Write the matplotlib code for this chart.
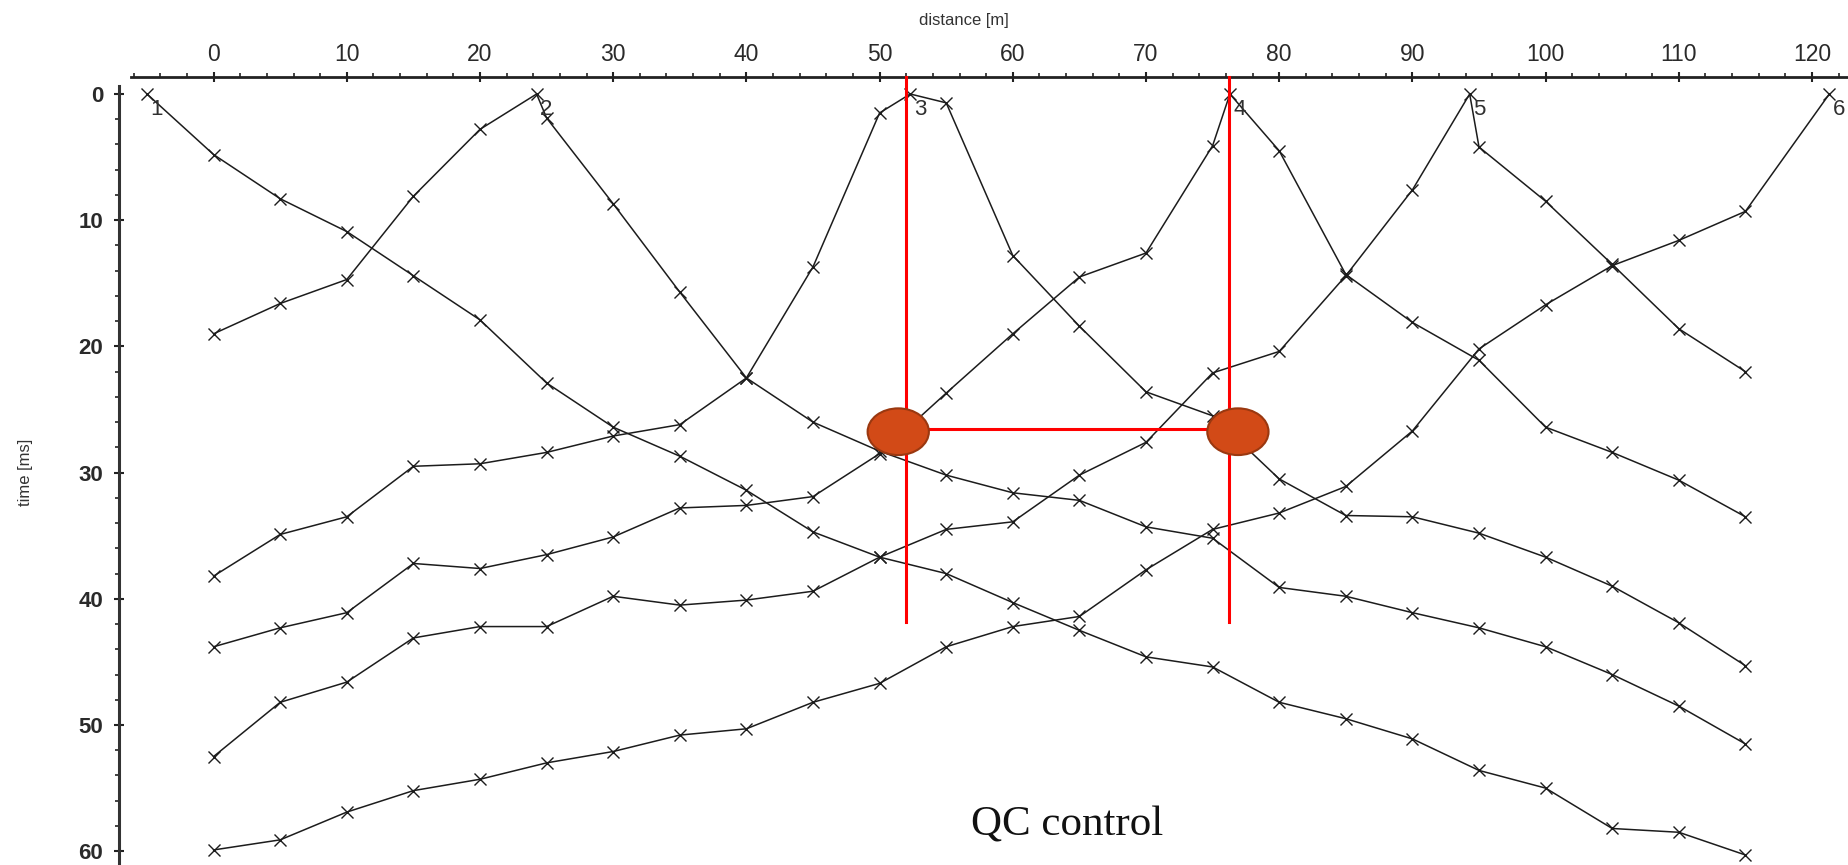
import matplotlib
matplotlib.use("Agg")
import matplotlib.pyplot as plt
from matplotlib.patches import Ellipse
from matplotlib.ticker import MultipleLocator

plt.rcParams['font.family'] = ['Liberation Sans', 'DejaVu Sans']

# ---------------- data ----------------
offsets = [0, 5, 10, 15, 20, 25, 30, 35, 40, 45, 50, 55,
           60, 65, 70, 75, 80, 85, 90, 95, 100, 105, 110, 115]
shot_labels = ["1", "2", "3", "4", "5", "6"]
shot_x = [-5.0, 24.25, 52.3, 76.3, 94.3, 121.3]

times_1 = [4.8, 8.3, 10.9, 14.4, 17.9, 22.9, 26.4, 28.7, 31.4, 34.7, 36.7, 38.0,
           40.3, 42.5, 44.6, 45.4, 48.2, 49.5, 51.1, 53.6, 55.0, 58.2, 58.5, 60.3]
times_2 = [19.0, 16.6, 14.7, 8.1, 2.8, 1.9, 8.7, 15.7, 22.5, 26.0, 28.3, 30.2,
           31.6, 32.2, 34.3, 35.2, 39.1, 39.8, 41.1, 42.3, 43.8, 46.0, 48.5, 51.5]
times_3 = [38.2, 34.9, 33.5, 29.5, 29.3, 28.4, 27.1, 26.2, 22.5, 13.7, 1.5, 0.7,
           12.8, 18.4, 23.6, 25.5, 30.5, 33.4, 33.5, 34.8, 36.7, 39.0, 41.9, 45.3]
times_4 = [43.8, 42.3, 41.1, 37.2, 37.6, 36.5, 35.1, 32.8, 32.6, 31.9, 28.5, 23.7,
           19.0, 14.5, 12.6, 4.1, 4.5, 14.3, 18.1, 21.1, 26.4, 28.4, 30.6, 33.5]
times_5 = [52.5, 48.2, 46.6, 43.1, 42.2, 42.2, 39.8, 40.5, 40.1, 39.4, 36.7, 34.5,
           33.9, 30.2, 27.6, 22.1, 20.4, 14.4, 7.6, 4.2, 8.5, 13.5, 18.6, 22.0]
times_6 = [59.9, 59.1, 56.9, 55.2, 54.3, 53.0, 52.1, 50.8, 50.3, 48.2, 46.7, 43.8,
           42.2, 41.4, 37.7, 34.5, 33.2, 31.1, 26.7, 20.2, 16.7, 13.6, 11.6, 9.3]
all_times = [times_1, times_2, times_3, times_4, times_5, times_6]

# QC annotation (red lines / picked points)
qc_x = [51.95, 76.25]
qc_line_bottom = 41.8
qc_time = 26.57
qc_pts_x = [51.4, 76.9]
qc_pts_t = [26.76, 26.76]

# ---------------- figure ----------------
W, H = 1849, 865
fig = plt.figure(figsize=(W / 100, H / 100), dpi=100)

x0_px, px_per_m = 213.6, 13.32
y0_px, px_per_ms = 94.0, 12.62
ax_left_px, ax_top_px = 119.3, 76.7
ax = fig.add_axes([ax_left_px / W, 0, 1 - ax_left_px / W, 1 - ax_top_px / H])
ax.set_xlim((ax_left_px - x0_px) / px_per_m, (W - x0_px) / px_per_m)
ax.set_ylim((H - y0_px) / px_per_ms, (ax_top_px - y0_px) / px_per_ms)

line_col = '#1c1c1c'
for sx, times in zip(shot_x, all_times):
    pts = sorted(list(zip(offsets, times)) + [(sx, 0.0)])
    xs = [p[0] for p in pts]
    ts = [p[1] for p in pts]
    ax.plot(xs, ts, color=line_col, lw=1.1, marker='x', ms=8, mew=1.0,
            zorder=2, clip_on=False)

for lab, sx in zip(shot_labels, shot_x):
    ax.annotate(lab, (sx, 0), xytext=(2.5, -3.5), textcoords='offset points',
                ha='left', va='top', fontsize=16, color='#303030', zorder=3)

# red QC lines
red = '#FF0000'
for qx in qc_x:
    ax.plot([qx, qx], [ax.get_ylim()[1], qc_line_bottom], color=red, lw=2.2,
            zorder=4, clip_on=False)
ax.plot([qc_x[0], qc_x[1]], [qc_time, qc_time], color=red, lw=2.2, zorder=4)
for ex, et in zip(qc_pts_x, qc_pts_t):
    ax.add_patch(Ellipse((ex, et), width=4.6, height=3.7, facecolor='#D24A17',
                         edgecolor='#9A3810', lw=1.5, zorder=5))

# axes styling
ax.xaxis.tick_top()
ax.spines['bottom'].set_visible(False)
ax.spines['right'].set_visible(False)
ax.spines['top'].set_linewidth(2.0)
ax.spines['left'].set_linewidth(2.2)
ax.spines['top'].set_color('#222222')
ax.spines['left'].set_color('#333333')
ax.spines['top'].set_bounds(-6.2, (W - x0_px) / px_per_m)
ax.spines['left'].set_bounds(-0.6, (H - y0_px) / px_per_ms)

ax.xaxis.set_major_locator(MultipleLocator(10))
ax.xaxis.set_minor_locator(MultipleLocator(2))
ax.yaxis.set_major_locator(MultipleLocator(10))
ax.yaxis.set_minor_locator(MultipleLocator(2))
ax.set_xticks([0, 10, 20, 30, 40, 50, 60, 70, 80, 90, 100, 110, 120])
ax.set_yticks([0, 10, 20, 30, 40, 50, 60])

ax.tick_params(axis='x', which='major', direction='inout', length=7, width=1.5,
               pad=4, labelsize=16.5, labelcolor='#2a2a2a', color='#222222')
ax.tick_params(axis='x', which='minor', direction='out', length=3, width=1.2,
               color='#222222')
ax.tick_params(axis='y', which='major', direction='inout', length=7, width=1.5,
               pad=8, labelsize=16, labelcolor='#2a2a2a', color='#222222')
ax.tick_params(axis='y', which='minor', direction='out', length=3, width=1.2,
               color='#222222')
for t in ax.get_yticklabels():
    t.set_fontweight('bold')

fig.text(964 / W, 1 - 21 / H, 'distance [m]', ha='center', va='center',
         fontsize=12, color='#333333')
fig.text(26 / W, 1 - 472 / H, 'time [ms]', ha='center', va='center',
         rotation=90, fontsize=12, color='#333333')
fig.text(1067 / W, 1 - 825 / H, 'QC control', ha='center', va='center',
         fontsize=31, color='#111111', family=['Liberation Serif', 'DejaVu Serif'])

fig.savefig('out.png', dpi=100)
